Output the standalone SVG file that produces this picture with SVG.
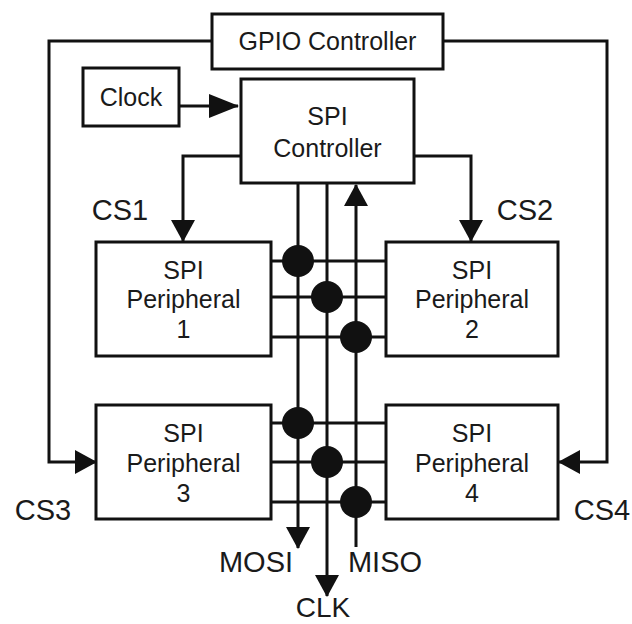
<svg xmlns="http://www.w3.org/2000/svg" width="632" height="624" viewBox="0 0 632 624">
<style>
.box{fill:#fff;stroke:#111;stroke-width:3}
.ln{fill:none;stroke:#111;stroke-width:3}
.t{font-family:"Liberation Sans",Arial,sans-serif;font-size:25px;fill:#1a1a1a;text-anchor:middle}
.lb{font-family:"Liberation Sans",Arial,sans-serif;font-size:29px;fill:#1a1a1a;text-anchor:middle}
.dot{fill:#111}
</style>
<defs>
<marker id="ah" markerUnits="userSpaceOnUse" markerWidth="22" markerHeight="24" refX="21" refY="12" orient="auto" viewBox="0 0 22 24">
<path d="M0,0 L22,12 L0,24 z" fill="#111"/>
</marker>
<marker id="ahl" markerUnits="userSpaceOnUse" markerWidth="30" markerHeight="24" refX="29" refY="12" orient="auto" viewBox="0 0 30 24">
<path d="M0,0 L30,12 L0,24 z" fill="#111"/>
</marker>
</defs>
<rect width="632" height="624" fill="#fff"/>
<g id="connectors">
<path class="ln" d="M212,41 H49 V462 H96" marker-end="url(#ah)"/>
<path class="ln" d="M443,41 H607 V462 H559" marker-end="url(#ah)"/>
<path class="ln" d="M179,106 H238" marker-end="url(#ahl)"/>
<path class="ln" d="M241,156 H183 V241" marker-end="url(#ah)"/>
<path class="ln" d="M414,156 H471 V241" marker-end="url(#ah)"/>
<path class="ln" d="M298,183 V548" marker-end="url(#ah)"/>
<path class="ln" d="M327,183 V596" marker-end="url(#ah)"/>
<path class="ln" d="M356,547 V185" marker-end="url(#ah)"/>
<path class="ln" d="M271,261 H386 M271,297 H386 M271,337 H386 M271,423 H386 M271,462 H386 M271,502 H386"/>
<circle class="dot" cx="298" cy="261" r="16"/>
<circle class="dot" cx="327" cy="297" r="16"/>
<circle class="dot" cx="356" cy="337" r="16"/>
<circle class="dot" cx="298" cy="423" r="16"/>
<circle class="dot" cx="327" cy="462" r="16"/>
<circle class="dot" cx="356" cy="502" r="16"/>
<text class="lb" x="120" y="220">CS1</text>
<text class="lb" x="525" y="220">CS2</text>
<text class="lb" x="43" y="520">CS3</text>
<text class="lb" x="602" y="520">CS4</text>
<text class="lb" x="256" y="572">MOSI</text>
<text class="lb" x="385" y="572">MISO</text>
<text class="lb" x="323" y="617" style="font-size:28px">CLK</text>
</g>
<g id="gpio">
<rect class="box" x="212" y="14" width="231" height="55"/>
<text class="t" x="327.5" y="50">GPIO Controller</text>
</g>
<g id="clock">
<rect class="box" x="83" y="68" width="96" height="58"/>
<text class="t" x="131" y="106">Clock</text>
</g>
<g id="spi-controller">
<rect class="box" x="241" y="79" width="173" height="104"/>
<text class="t" x="327.5" y="125">SPI</text>
<text class="t" x="327.5" y="157">Controller</text>
</g>
<g id="peripheral1">
<rect class="box" x="96" y="242" width="175" height="114"/>
<text class="t" x="183.5" y="279">SPI</text>
<text class="t" x="183.5" y="308">Peripheral</text>
<text class="t" x="183.5" y="338">1</text>
</g>
<g id="peripheral2">
<rect class="box" x="386" y="242" width="172" height="114"/>
<text class="t" x="472" y="279">SPI</text>
<text class="t" x="472" y="308">Peripheral</text>
<text class="t" x="472" y="338">2</text>
</g>
<g id="peripheral3">
<rect class="box" x="96" y="405" width="175" height="114"/>
<text class="t" x="183.5" y="442">SPI</text>
<text class="t" x="183.5" y="472">Peripheral</text>
<text class="t" x="183.5" y="502">3</text>
</g>
<g id="peripheral4">
<rect class="box" x="386" y="405" width="172" height="114"/>
<text class="t" x="472" y="442">SPI</text>
<text class="t" x="472" y="472">Peripheral</text>
<text class="t" x="472" y="502">4</text>
</g>
</svg>
